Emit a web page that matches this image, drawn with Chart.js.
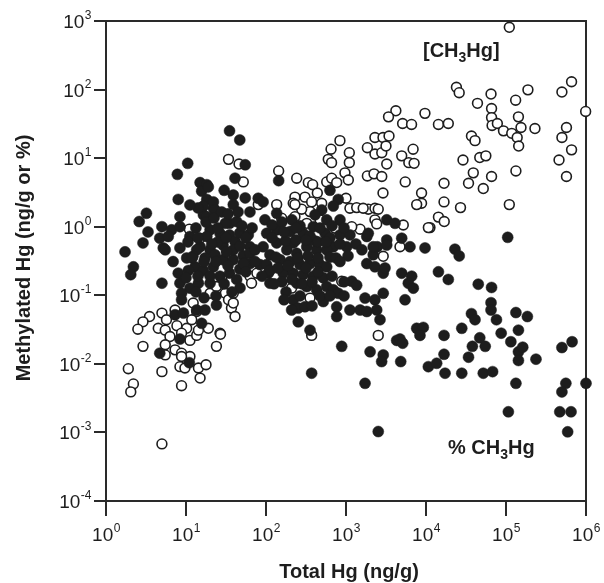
<!DOCTYPE html>
<html>
<head>
<meta charset="utf-8">
<script src="https://cdn.jsdelivr.net/npm/chart.js@4.4.1/dist/chart.umd.min.js"></script>
<style>
html,body{margin:0;padding:0;background:#fff;}
#wrap{width:604px;height:583px;}
</style>
</head>
<body>
<div id="wrap"><canvas id="c" width="604" height="583"></canvas></div>
<script>
// ---- Data: [CH3Hg] (open circles), ng/g ----
const concTotalHg = [
1.1e5, 2.4e4, 2.6e4, 6.5e4, 4.4e4, 6.6e4, 6.6e4, 6.7e4, 7.8e4, 9.3e4,
1.18e5, 1.38e5, 1.44e5, 1.54e5, 1.43e5, 1.32e5, 1.88e5, 2.3e5, 5.0e5, 6.6e5,
9.9e5, 5.7e5, 5.0e5, 6.6e5, 4.6e5, 5.7e5, 9700, 1.43e4, 1.9e4, 3.7e4,
4.1e4, 2.9e4, 4.7e4, 5.6e4, 3.9e4, 6.6e4, 3.4e4, 5.2e4, 1.33e5, 1.68e4,
8800, 8800, 1.68e4, 2.7e4, 1.43e4, 1.69e4, 1.12e4, 1.1e5, 4200, 3400,
5100, 6600, 840, 650, 600, 660, 1100, 1100, 970, 1070,
2300, 2900, 3450, 1850, 2300, 2800, 3160, 3230, 4970, 6900,
6100, 7100, 1850, 2240, 2800, 5500, 2900, 7650, 144, 242,
338, 383, 438, 307, 230, 219, 372, 497, 574, 662,
765, 1000, 1120, 1360, 1900, 2300, 2530, 2300, 2420, 5200,
1.07e4, 1500, 136, 157, 230, 355, 4730, 52, 80, 1640,
323, 473, 729, 1180, 279, 230, 34, 46, 11, 15,
63, 66, 209, 355, 372, 884, 2530, 2920, 20, 24,
28, 31, 34, 39, 37, 41, 12.3, 13.6, 7.3, 3.5,
2.9, 2.5, 5.0, 5.7, 4.5, 5.5, 7.7, 10.2, 8.8, 6.3,
5.5, 2.9, 7.3, 8.8, 11.2, 13.6, 14.3, 19, 11.8, 26.6,
24, 11.2, 5.5, 8.8, 8.4, 9.7, 14.3, 17.8, 15, 8.8,
5.0, 1.9, 2.2, 2.04, 5.0, 27, 77, 39
];
const concMeHg = [
810, 108, 90, 86, 63, 53, 39, 30, 32, 25,
23, 20, 15, 28, 40, 70, 99, 27, 92, 130,
48, 28, 20, 13.2, 9.4, 5.4, 45, 31, 32, 21,
18, 9.4, 10.2, 10.8, 6.1, 5.4, 4.3, 3.6, 6.5, 4.3,
3.1, 2.2, 2.3, 1.9, 1.38, 1.19, 0.97, 2.1, 49, 40,
32, 31, 18, 13.5, 9.6, 8.6, 12, 8.6, 6.1, 4.8,
20, 20, 21, 14.2, 11.5, 12, 15, 8.2, 10.8, 13.5,
8.6, 8.4, 5.5, 5.9, 5.4, 4.5, 3.1, 2.1, 6.5, 5.1,
4.4, 4.1, 3.1, 2.7, 2.7, 2.2, 2.3, 2.2, 4.5, 5.1,
4.4, 2.6, 1.86, 1.9, 1.8, 1.86, 1.8, 1.26, 1.1, 1.06,
0.97, 0.92, 2.1, 1.33, 1.4, 1.66, 0.51, 4.5, 2.1, 1.86,
1.12, 1.26, 0.95, 1.0, 1.8, 2.1, 9.6, 8.2, 0.92, 0.68,
0.19, 0.15, 0.127, 0.091, 0.026, 0.16, 0.026, 0.37, 0.107, 0.134,
0.18, 0.107, 0.086, 0.107, 0.065, 0.049, 0.077, 0.058, 0.061, 0.049,
0.041, 0.032, 0.055, 0.044, 0.033, 0.031, 0.036, 0.033, 0.028, 0.025,
0.019, 0.018, 0.016, 0.0143, 0.022, 0.026, 0.031, 0.033, 0.044, 0.028,
0.018, 0.0128, 0.0135, 0.0128, 0.0091, 0.0087, 0.0087, 0.0097, 0.0062, 0.0048,
0.0077, 0.0085, 0.0051, 0.0039, 0.00068, 0.027, 0.21, 0.077
];

// ---- Data: % CH3Hg (filled circles) ----
const pctTotalHg = [
35, 47, 55, 41, 10.5, 7.8, 15, 18.2, 15.7, 19,
30, 39, 39, 80, 92, 8.0, 18.2, 22, 16.5, 22,
16.5, 23, 18.2, 3.2, 2.6, 8.4, 5.0, 6.6, 8.4, 2.9,
1.73, 4.7, 6.0, 11.2, 20, 35, 31, 43, 26.6, 35,
18.2, 5.2, 8.4, 15, 29, 41, 2.2, 2.04, 5.0, 5.5,
6.9, 10.2, 13, 8.0, 10.7, 16.5, 22, 29, 39, 39,
20, 13.6, 8.4, 11.2, 8.8, 8.8, 14.3, 20, 26.6, 35,
43, 7.3, 9.3, 13.6, 17.3, 24, 15.7, 8.4, 4.7, 11,
23, 17.3, 47, 52, 47, 32, 25, 12.2, 630, 800,
694, 497, 97, 136, 102, 60, 136, 200, 292, 390,
574, 547, 841, 841, 1120, 1820, 1020, 694, 219, 136,
92, 63, 144, 3230, 4100, 1900, 2460, 3230, 4970, 6310,
9720, 63, 52, 63, 84, 102, 107, 112, 182, 242,
323, 430, 574, 150, 200, 266, 355, 473, 574, 164,
219, 292, 390, 520, 242, 323, 430, 574, 694, 801,
520, 765, 765, 219, 253, 209, 307, 253, 355, 884,
2000, 2920, 1820, 2300, 2190, 3230, 2920, 1180, 1360, 1120,
1500, 1730, 2300, 2420, 2660, 2920, 4300, 2190, 3070, 4970,
6620, 6010, 6940, 5470, 1820, 2790, 4830, 4730, 5110, 7650,
9250, 8410, 1.07e4, 372, 1730, 2530, 2.3e4, 2.6e4, 1.43e4, 1.9e4,
4.5e4, 6.6e4, 6.5e4, 6.5e4, 7.6e4, 3.7e4, 4.1e4, 1.33e5, 1.85e5, 1.43e5,
8.7e4, 2.8e4, 1.68e4, 4.7e4, 5.5e4, 3.8e4, 3.4e4, 1.68e4, 1.36e4, 1.73e4,
2.8e4, 5.2e4, 6.8e4, 1.15e5, 1.43e5, 1.62e5, 1.43e5, 2.37e5, 1.33e5, 5.0e5,
6.7e5, 5.6e5, 5.0e5, 1.0e6, 1.07e5, 4.7e5, 6.5e5, 5.9e5, 1.05e5, 175,
410, 630, 112,
14.1, 17.8, 22.4, 28, 25, 33.5, 44.7, 50, 13.3, 10.6,
14.1, 21, 31.6, 47.3, 56, 11.9, 16.8, 23.7, 33.5, 53,
10, 14.1, 20, 30, 47.3, 37.6, 56, 13.3, 11.2, 55,
63, 67, 73, 73, 23.7, 16.8, 3.35,
119, 158, 211, 266, 355, 473, 668, 944, 119, 168,
237, 316, 447, 631, 841, 1330, 112, 141, 188, 251,
335, 447, 750, 158, 211, 282, 376, 473, 631, 944,
178, 266, 376, 1580, 1060, 410,
133, 316, 447, 668, 944, 841, 562, 237, 126, 89,
168
];
const pctMeHg = [
25, 18.4, 8.0, 5.1, 8.4, 5.8, 4.4, 4.1, 3.3, 3.8,
3.4, 2.9, 2.1, 2.6, 2.3, 2.5, 2.5, 1.86, 1.49, 2.3,
2.0, 1.76, 1.4, 1.57, 1.19, 1.4, 1.0, 0.9, 1.0, 0.58,
0.43, 0.68, 0.72, 0.72, 0.9, 1.12, 1.12, 1.19, 0.8, 0.76,
0.72, 0.49, 0.49, 0.51, 0.54, 0.61, 0.26, 0.20, 0.15, 0.46,
0.31, 0.35, 0.26, 0.21, 0.23, 0.23, 0.26, 0.33, 0.33, 0.46,
0.46, 0.46, 0.15, 0.127, 0.107, 0.086, 0.15, 0.15, 0.19, 0.21,
0.17, 0.052, 0.055, 0.061, 0.061, 0.072, 0.039, 0.023, 0.0143, 0.0104,
0.39, 0.35, 0.81, 0.38, 0.24, 0.43, 0.6, 0.37, 3.4, 2.5,
2.0, 1.76, 1.26, 1.57, 0.8, 0.76, 0.9, 0.85, 0.8, 1.0,
1.26, 0.8, 1.26, 0.76, 0.76, 0.72, 0.51, 0.51, 0.58, 0.58,
0.51, 0.51, 4.7, 1.26, 1.12, 0.8, 0.51, 0.64, 0.68, 0.51,
0.49, 0.41, 0.29, 0.29, 0.28, 0.28, 0.21, 0.15, 0.46, 0.41,
0.51, 0.46, 0.46, 0.33, 0.31, 0.28, 0.29, 0.28, 0.26, 0.21,
0.21, 0.20, 0.19, 0.18, 0.15, 0.134, 0.12, 0.134, 0.12, 0.107,
0.081, 0.068, 0.049, 0.086, 0.065, 0.061, 0.068, 0.041, 0.031, 0.018,
0.015, 0.0135, 0.29, 0.26, 0.39, 0.54, 0.21, 0.16, 0.14, 0.061,
0.061, 0.091, 0.086, 0.061, 0.044, 0.107, 0.022, 0.51, 0.25, 0.21,
0.19, 0.15, 0.127, 0.086, 0.058, 0.0108, 0.0108, 0.023, 0.020, 0.033,
0.034, 0.026, 0.0091, 0.0073, 0.0052, 0.00103, 0.47, 0.375, 0.22, 0.17,
0.145, 0.13, 0.078, 0.061, 0.044, 0.054, 0.044, 0.056, 0.049, 0.031,
0.028, 0.033, 0.026, 0.024, 0.018, 0.018, 0.0125, 0.0138, 0.0102, 0.0073,
0.0073, 0.0073, 0.0077, 0.021, 0.015, 0.0175, 0.0112, 0.0117, 0.0052, 0.0173,
0.021, 0.0052, 0.0039, 0.0052, 0.002, 0.002, 0.002, 0.00102, 0.70, 0.62,
0.62, 0.36, 0.39,
1.88, 1.17, 1.34, 1.64, 0.96, 1.54, 1.64, 1.03, 0.96, 0.60,
0.69, 0.56, 0.69, 0.52, 0.69, 0.35, 0.31, 0.31, 0.27, 0.29,
0.18, 0.19, 0.19, 0.147, 0.128, 0.112, 0.22, 0.112, 2.08, 2.63,
1.64, 0.96, 0.46, 0.31, 0.098, 0.092, 0.84,
1.06, 1.17, 1.26, 1.03, 0.73, 0.96, 1.03, 0.96, 0.69, 0.84,
0.64, 0.64, 0.60, 0.69, 0.56, 0.56, 0.23, 0.25, 0.27, 0.35,
0.375, 0.35, 0.35, 0.157, 0.17, 0.147, 0.157, 0.098, 0.098, 0.098,
0.112, 0.098, 0.070, 0.46, 0.375, 1.49,
0.36, 0.25, 0.22, 0.19, 0.157, 0.31, 0.60, 0.96, 0.147, 0.19,
0.086
];

// ---- Tick labels ----
const xTickValues = [1, 10, 100, 1e3, 1e4, 1e5, 1e6];
const xTickExponents = ['0', '1', '2', '3', '4', '5', '6'];
const yTickValues = [1e-4, 1e-3, 1e-2, 1e-1, 1, 10, 100, 1e3];
const yTickExponents = ['-4', '-3', '-2', '-1', '0', '1', '2', '3'];

const xTitle = 'Total Hg (ng/g)';
const yTitle = 'Methylated Hg (ng/g or %)';
const ink = '#1d1d1d';
const lineInk = '#2a2a2a';

const concPoints = concTotalHg.map((x, i) => ({x: x, y: concMeHg[i]}));
const pctPoints = pctTotalHg.map((x, i) => ({x: x, y: pctMeHg[i]}));

function drawSubLabel(ctx, x, y, parts, size) {
  let cx = x;
  parts.forEach(([t, sub]) => {
    ctx.font = 'bold ' + (sub ? Math.round(size * 0.68) : size) + 'px "Liberation Sans", Arial, sans-serif';
    ctx.fillText(t, cx, sub ? y + 5 : y);
    cx += ctx.measureText(t).width;
  });
}

const framePlugin = {
  id: 'frame',
  beforeDatasetsDraw(chart) {
    const {ctx, chartArea: a} = chart;
    const xs = chart.scales.x, ys = chart.scales.y;
    ctx.save();
    ctx.strokeStyle = lineInk;
    ctx.lineWidth = 2;
    ctx.lineCap = 'butt';
    ctx.strokeRect(a.left, a.top, a.right - a.left, a.bottom - a.top);
    ctx.beginPath();
    xTickValues.forEach(v => {
      const px = Math.round(xs.getPixelForValue(v));
      ctx.moveTo(px, a.bottom);
      ctx.lineTo(px, a.bottom + 15);
    });
    yTickValues.forEach(v => {
      const py = Math.round(ys.getPixelForValue(v));
      ctx.moveTo(a.left, py);
      ctx.lineTo(a.left - 12, py);
    });
    ctx.stroke();
    ctx.restore();
  },
  afterDraw(chart) {
    const {ctx, chartArea: a} = chart;
    const xs = chart.scales.x, ys = chart.scales.y;
    ctx.save();
    ctx.fillStyle = ink;
    ctx.textBaseline = 'alphabetic';
    ctx.textAlign = 'left';
    const big = '19px "Liberation Sans", Arial, sans-serif';
    const small = '12px "Liberation Sans", Arial, sans-serif';
    xTickValues.forEach((v, i) => {
      const px = xs.getPixelForValue(v);
      ctx.font = big; const w1 = ctx.measureText('10').width;
      ctx.font = small; const w2 = ctx.measureText(xTickExponents[i]).width;
      const start = px - (w1 + w2) / 2;
      ctx.font = big; ctx.fillText('10', start, 541);
      ctx.font = small; ctx.fillText(xTickExponents[i], start + w1 + 0.5, 532);
    });
    yTickValues.forEach((v, i) => {
      const py = ys.getPixelForValue(v);
      ctx.font = big; const w1 = ctx.measureText('10').width;
      ctx.font = small; const w2 = ctx.measureText(yTickExponents[i]).width;
      const start = 91 - (w1 + w2);
      ctx.font = big; ctx.fillText('10', start, py + 7);
      ctx.font = small; ctx.fillText(yTickExponents[i], start + w1 + 0.5, py - 2);
    });
    ctx.font = 'bold 20px "Liberation Sans", Arial, sans-serif';
    ctx.textAlign = 'center';
    ctx.fillText(xTitle, (a.left + a.right) / 2 + 3, 578);
    ctx.save();
    ctx.translate(30, 258);
    ctx.rotate(-Math.PI / 2);
    ctx.fillText(yTitle, 0, 0);
    ctx.restore();
    ctx.textAlign = 'left';
    drawSubLabel(ctx, 423, 57, [['[CH', false], ['3', true], ['Hg]', false]], 20);
    drawSubLabel(ctx, 448, 454, [['% CH', false], ['3', true], ['Hg', false]], 20);
    ctx.restore();
  }
};

new Chart(document.getElementById('c'), {
  type: 'scatter',
  data: {
    datasets: [
      {
        label: '% CH3Hg',
        data: pctPoints,
        pointRadius: 5.5,
        pointHoverRadius: 5.5,
        backgroundColor: ink,
        borderColor: ink,
        borderWidth: 0.5,
        clip: false
      },
      {
        label: '[CH3Hg]',
        data: concPoints,
        pointRadius: 4.9,
        pointHoverRadius: 4.9,
        backgroundColor: '#ffffff',
        borderColor: ink,
        borderWidth: 1.6,
        clip: false
      }
    ]
  },
  options: {
    responsive: false,
    animation: false,
    events: [],
    layout: {padding: {top: 21, right: 18, left: 0, bottom: 0}},
    plugins: {legend: {display: false}, tooltip: {enabled: false}},
    scales: {
      x: {
        type: 'logarithmic', min: 1, max: 1e6,
        ticks: {display: false},
        grid: {display: false},
        border: {display: false},
        afterBuildTicks(s) { s.ticks = xTickValues.map(v => ({value: v})); },
        afterFit(s) { s.height = 82; }
      },
      y: {
        type: 'logarithmic', min: 1e-4, max: 1e3,
        ticks: {display: false},
        grid: {display: false},
        border: {display: false},
        afterBuildTicks(s) { s.ticks = yTickValues.map(v => ({value: v})); },
        afterFit(s) { s.width = 106; }
      }
    }
  },
  plugins: [framePlugin]
});
</script>
</body>
</html>
